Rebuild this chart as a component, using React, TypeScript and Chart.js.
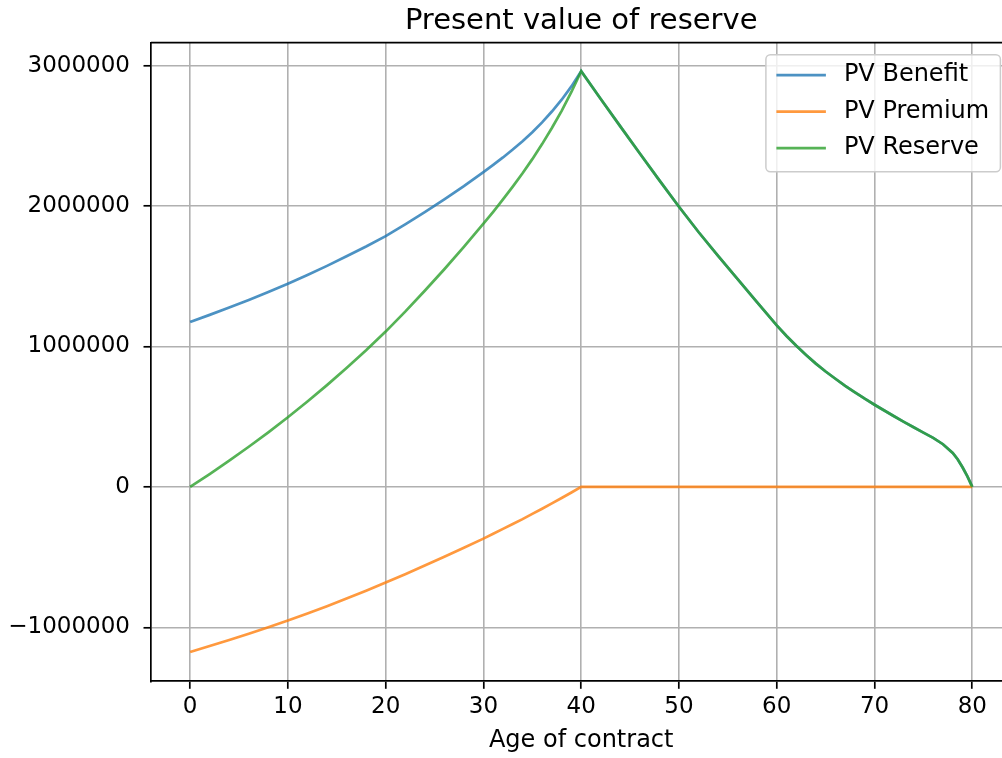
import React, { useEffect, useRef } from "react";
import { Chart, registerables } from "chart.js";

Chart.register(...registerables);

// ---------- data ----------
const ages = [
  0, 2, 4, 6, 8, 10, 12, 14, 16, 18, 20, 22, 24, 26, 28,
  30, 31, 32, 33, 34, 35, 36, 37, 38, 39, 40,
  42, 44, 46, 48, 50, 52, 54, 56, 58,
  60, 61, 62, 63, 64, 65, 66, 67, 68, 69, 70,
  71, 72, 73, 74, 75, 76, 77, 78, 78.5, 79, 79.5, 80,
];

const pvBenefit = [
  1175000, 1225000, 1277000, 1331000, 1388000, 1447000, 1509000, 1574000, 1642000, 1712000,
  1786000, 1869000, 1956000, 2047000, 2142000,
  2242000, 2293000, 2346000, 2402000, 2462000, 2526000, 2596000, 2673000, 2757000, 2852000, 2960000,
  2762000, 2567000, 2374000, 2183000, 1995000, 1815000, 1645000, 1479000, 1314000,
  1150000, 1075000, 1005000, 940000, 878000, 822000, 770000, 720000, 674000, 628000, 585000,
  544000, 503000, 463000, 425000, 387000, 349000, 304000, 242000, 197000, 140000, 75000, 0,
];

const pvPremium = [
  -1175000, -1133000, -1090000, -1045000, -999000, -951000, -901000, -849000, -795000, -739000,
  -680000, -621000, -559000, -497000, -433000,
  -368000, -334000, -299000, -264000, -229000, -192000, -155000, -117000, -79000, -40000, 0,
  0, 0, 0, 0, 0, 0, 0, 0, 0,
  0, 0, 0, 0, 0, 0, 0, 0, 0, 0, 0,
  0, 0, 0, 0, 0, 0, 0, 0, 0, 0, 0, 0,
];

const pvReserve = [
  0, 92000, 187000, 286000, 389000, 496000, 608000, 725000, 847000, 973000,
  1106000, 1248000, 1397000, 1550000, 1709000,
  1874000, 1959000, 2047000, 2138000, 2233000, 2334000, 2441000, 2556000, 2678000, 2812000, 2960000,
  2762000, 2567000, 2374000, 2183000, 1995000, 1815000, 1645000, 1479000, 1314000,
  1150000, 1075000, 1005000, 940000, 878000, 822000, 770000, 720000, 674000, 628000, 585000,
  544000, 503000, 463000, 425000, 387000, 349000, 304000, 242000, 197000, 140000, 75000, 0,
];

const seriesLabels = ["PV Benefit", "PV Premium", "PV Reserve"];
const seriesColors = ["rgba(31,119,180,0.8)", "rgba(255,127,14,0.8)", "rgba(44,160,44,0.8)"];
const xTickValues = [0, 10, 20, 30, 40, 50, 60, 70, 80];
const yTickValues = [-1000000, 0, 1000000, 2000000, 3000000];
const chartTitle = "Present value of reserve";
const xAxisTitle = "Age of contract";
const xLimits = [-4, 84];
const yLimits = [-1384000, 3163000];

// ---------- layout / style ----------
const W = 1020;
const H = 758;
const AREA_LEFT = 151;
const AREA_RIGHT = 1011.4;
const AREA_TOP = 42.7;
const AREA_BOTTOM = 681.3;
const FONT = "'DejaVu Sans', sans-serif";
const TICK_SIZE = 23;
const LABEL_SIZE = 24;
const TITLE_SIZE = 29;
const GRID_COLOR = "#b0b0b0";
const GRID_W = 1.6;
const SPINE_W = 1.7;
const LINE_W = 2.7;

const frameTitleLegend = {
  id: "frameTitleLegend",
  afterDatasetsDraw(chart: any) {
    const { ctx, chartArea } = chart;
    ctx.save();
    ctx.strokeStyle = "#000";
    ctx.lineWidth = SPINE_W;
    ctx.beginPath();
    ctx.moveTo(chartArea.left, chartArea.top);
    ctx.lineTo(chartArea.right, chartArea.top);
    ctx.lineTo(chartArea.right, chartArea.bottom);
    ctx.stroke();
    ctx.restore();
  },
  afterDraw(chart: any) {
    const { ctx, chartArea } = chart;
    ctx.save();
    // title
    ctx.font = `${TITLE_SIZE}px ${FONT}`;
    ctx.fillStyle = "#000";
    ctx.textAlign = "center";
    ctx.textBaseline = "alphabetic";
    ctx.fillText(chartTitle, (chartArea.left + chartArea.right) / 2, 28.5);

    // legend
    const fs = 22;
    const boxRight = chartArea.right - 0.5 * fs;
    const boxTop = chartArea.top + 0.5 * fs + 1;
    const boxW = 234.5;
    const boxH = 117;
    const boxLeft = boxRight - boxW;
    ctx.beginPath();
    const r = 4.5;
    ctx.moveTo(boxLeft + r, boxTop);
    ctx.lineTo(boxRight - r, boxTop);
    ctx.arcTo(boxRight, boxTop, boxRight, boxTop + r, r);
    ctx.lineTo(boxRight, boxTop + boxH - r);
    ctx.arcTo(boxRight, boxTop + boxH, boxRight - r, boxTop + boxH, r);
    ctx.lineTo(boxLeft + r, boxTop + boxH);
    ctx.arcTo(boxLeft, boxTop + boxH, boxLeft, boxTop + boxH - r, r);
    ctx.lineTo(boxLeft, boxTop + r);
    ctx.arcTo(boxLeft, boxTop, boxLeft + r, boxTop, r);
    ctx.closePath();
    ctx.fillStyle = "rgba(255,255,255,0.8)";
    ctx.fill();
    ctx.strokeStyle = "#cccccc";
    ctx.lineWidth = 1.5;
    ctx.stroke();

    ctx.font = `${LABEL_SIZE}px ${FONT}`;
    ctx.textBaseline = "middle";
    ctx.textAlign = "left";
    chart.data.datasets.forEach((ds: any, i: number) => {
      const y = boxTop + 20.5 + i * 36.5;
      ctx.strokeStyle = ds.borderColor;
      ctx.lineWidth = LINE_W;
      ctx.beginPath();
      ctx.moveTo(boxLeft + 10.5, y);
      ctx.lineTo(boxLeft + 60, y);
      ctx.stroke();
      ctx.fillStyle = "#000";
      ctx.fillText(ds.label, boxLeft + 78, y);
    });
    ctx.restore();
  },
};

export default function App() {
  const canvasRef = useRef<HTMLCanvasElement | null>(null);

  useEffect(() => {
    const canvas = canvasRef.current;
    if (!canvas) return;
    const series = [pvBenefit, pvPremium, pvReserve];
    const chart = new Chart(canvas, {
      type: "line",
      data: {
        datasets: series.map((vals, i) => ({
          label: seriesLabels[i],
          data: ages.map((a, j) => ({ x: a, y: vals[j] })),
          borderColor: seriesColors[i],
          backgroundColor: seriesColors[i],
          borderWidth: LINE_W,
          pointRadius: 0,
          tension: 0,
          fill: false,
          order: series.length - 1 - i,
        })),
      },
      options: {
        responsive: false,
        animation: false,
        devicePixelRatio: 1,
        layout: { padding: { left: 0, right: W - AREA_RIGHT, top: AREA_TOP, bottom: 0 } },
        plugins: {
          legend: { display: false },
          tooltip: { enabled: false },
          title: { display: false },
        },
        scales: {
          x: {
            type: "linear",
            min: xLimits[0],
            max: xLimits[1],
            afterBuildTicks: (scale: any) => {
              scale.ticks = xTickValues.map((v) => ({ value: v }));
            },
            afterFit: (scale: any) => {
              scale.height = H - AREA_BOTTOM;
            },
            grid: {
              color: GRID_COLOR,
              lineWidth: GRID_W,
              drawTicks: true,
              tickLength: 7.5,
              tickColor: "#000",
              tickWidth: SPINE_W,
            },
            border: { display: true, color: "#000", width: SPINE_W },
            ticks: {
              color: "#000",
              font: { family: FONT, size: TICK_SIZE },
              padding: 4.6,
              maxRotation: 0,
              autoSkip: false,
              callback: (v: any) => String(v),
            },
            title: {
              display: true,
              text: xAxisTitle,
              color: "#000",
              font: { family: FONT, size: LABEL_SIZE },
              padding: { top: 0, bottom: 2.6 },
            },
          },
          y: {
            type: "linear",
            min: yLimits[0],
            max: yLimits[1],
            afterBuildTicks: (scale: any) => {
              scale.ticks = yTickValues.map((v) => ({ value: v }));
            },
            afterFit: (scale: any) => {
              scale.width = AREA_LEFT;
            },
            grid: {
              color: GRID_COLOR,
              lineWidth: GRID_W,
              drawTicks: true,
              tickLength: 7.5,
              tickColor: "#000",
              tickWidth: SPINE_W,
            },
            border: { display: true, color: "#000", width: SPINE_W },
            ticks: {
              color: "#000",
              font: { family: FONT, size: TICK_SIZE },
              padding: 13.5,
              autoSkip: false,
              callback: (v: any) => (v < 0 ? "\u2212" + String(Math.abs(v)) : String(v)),
            },
          },
        },
      },
      plugins: [frameTitleLegend],
    });
    return () => chart.destroy();
  }, []);

  return (
    <div
      style={{
        position: "absolute",
        left: 0,
        top: 0,
        width: 1002,
        height: 758,
        overflow: "hidden",
        background: "#fff",
      }}
    >
      <canvas
        ref={canvasRef}
        width={W}
        height={H}
        style={{ display: "block", width: W, height: H }}
      />
    </div>
  );
}
